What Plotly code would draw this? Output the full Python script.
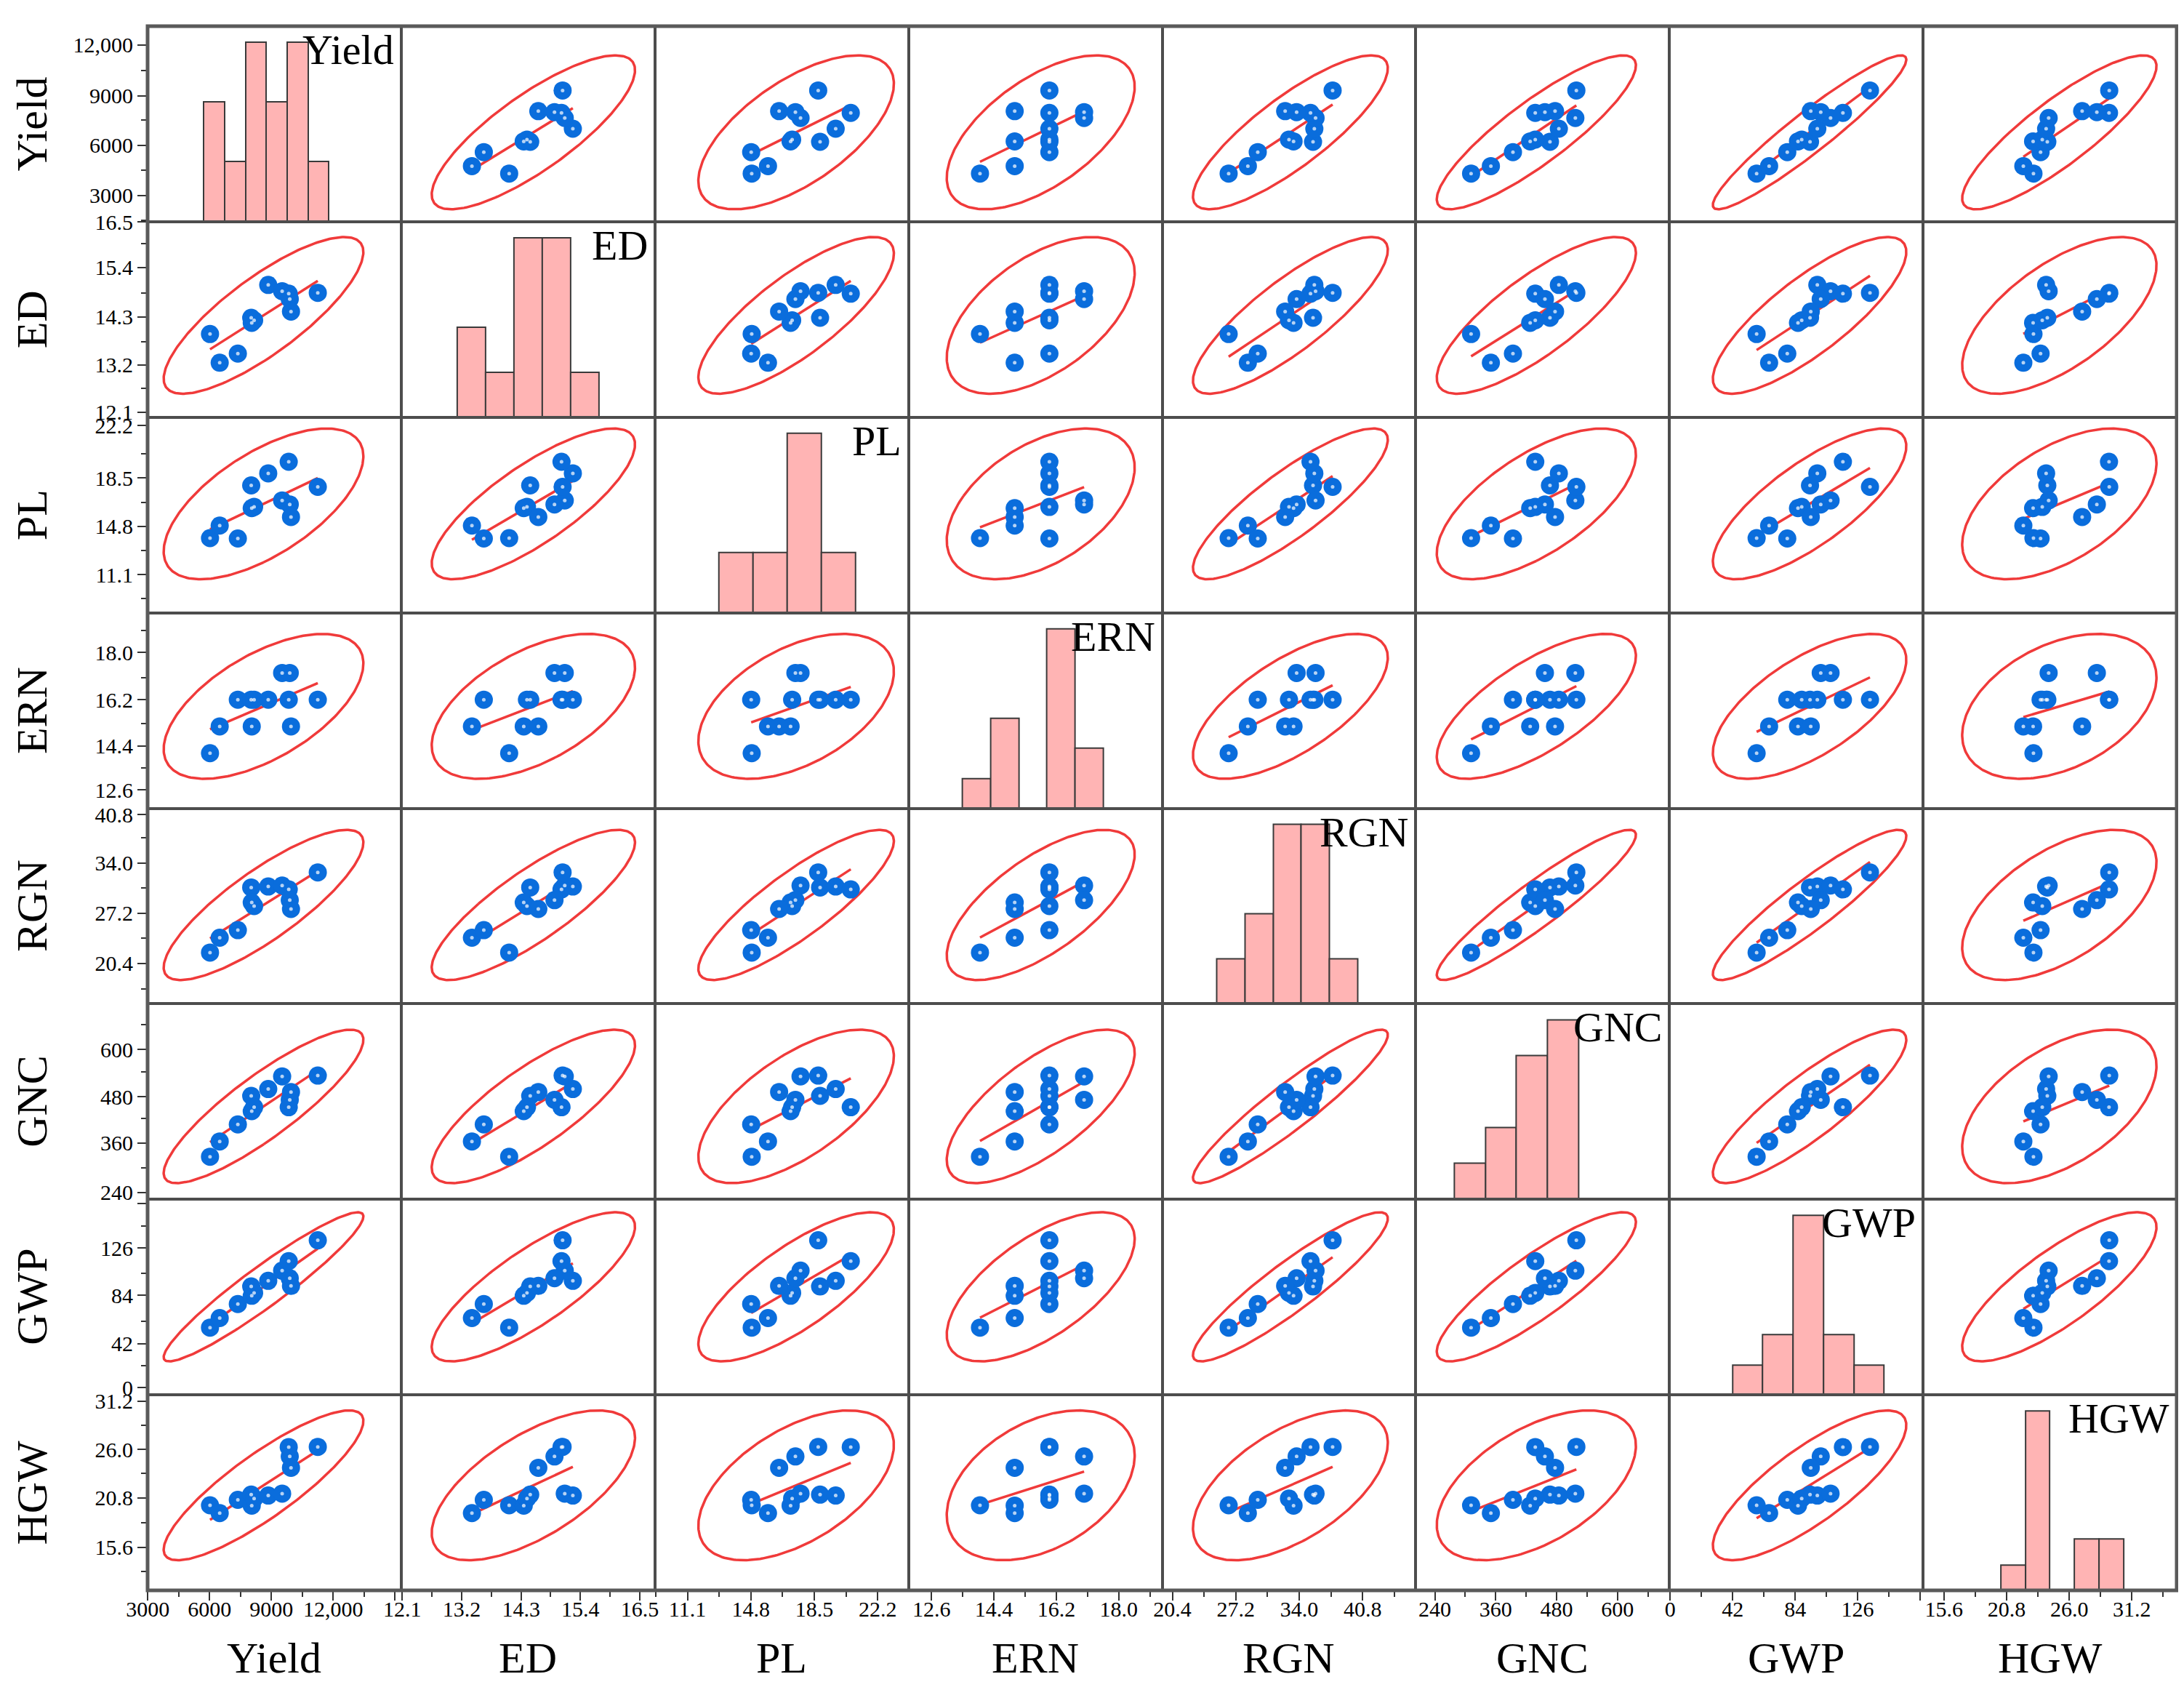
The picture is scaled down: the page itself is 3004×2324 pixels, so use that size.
import numpy as np
import plotly.graph_objects as go

VARIABLES = ["Yield", "ED", "PL", "ERN", "RGN", "GNC", "GWP", "HGW"]

YIELD = [6020, 6490, 7370, 8020, 8045, 8160, 8845, 9520, 9840, 9890, 9950, 11250]
ED = [14.08, 13.39, 13.61, 14.47, 14.35, 14.41, 15.26, 15.11, 15.05, 14.92, 14.62, 15.07]
PL = [14.85, 15.80, 14.82, 18.84, 17.12, 17.21, 19.75, 17.70, 20.63, 17.40, 16.45, 18.73]
ERN = [14, 15, 16, 16, 15, 16, 16, 17, 16, 17, 15, 16]
RGN = [26.43, 28.49, 29.55, 35.48, 33.39, 32.90, 35.62, 35.75, 35.21, 33.72, 32.49, 37.58]
GNC = [311.5, 350.5, 394, 467, 428, 438, 484.5, 517, 438, 457, 477, 519]
GWP = [58.1, 66.5, 78.7, 94.0, 85.9, 88.4, 98.9, 107.8, 116.1, 101.2, 94.5, 134.3]
HGW = [23.03, 22.19, 23.62, 24.18, 23.00, 23.76, 24.08, 24.29, 29.30, 28.29, 27.07, 29.32]

DATA = [YIELD, ED, PL, ERN, RGN, GNC, GWP, HGW]

# tick labels (same text on the bottom and left axes)
TICK_TEXT = {
    "Yield": ["3000", "6000", "9000", "12,000"],
    "ED": ["12.1", "13.2", "14.3", "15.4", "16.5"],
    "PL": ["11.1", "14.8", "18.5", "22.2"],
    "ERN": ["12.6", "14.4", "16.2", "18.0"],
    "RGN": ["20.4", "27.2", "34.0", "40.8"],
    "GNC": ["240", "360", "480", "600"],
    "GWP": ["0", "42", "84", "126"],
    "HGW": ["15.6", "20.8", "26.0", "31.2"],
}
TICK_VALUE = {
    "Yield": [3000, 6000, 9000, 12000],
    "ED": [12.1, 13.2, 14.3, 15.4, 16.5],
    "PL": [11.1, 14.8, 18.5, 22.2],
    "ERN": [12.6, 14.4, 16.2, 18.0],
    "RGN": [20.4, 27.2, 34.0, 40.8],
    "GNC": [240, 360, 480, 600],
    "GWP": [0, 42, 84, 126],
    "HGW": [15.6, 20.8, 26.0, 31.2],
}

# histogram bins (start, width)
HIST_BINS = {
    "Yield": (5718, 1011), "ED": (13.119, 0.524), "PL": (12.93, 1.992),
    "ERN": (13.5, 0.81), "RGN": (25.18, 3.014), "GNC": (278, 61.4),
    "GWP": (41.8, 20.4), "HGW": (20.31, 2.042),
}

# ---------------- layout settings ----------------
AXIS_RANGE = {
    "Yield": [2990, 15300], "ED": [12.08, 16.78], "PL": [9.2, 24.0],
    "ERN": [11.94, 19.25], "RGN": [19.3, 46.5], "GNC": [202.5, 702.5],
    "GWP": [-0.5, 170.0], "HGW": [13.87, 34.92],
}
# where the left-axis labels sit, as a fraction of each row's height
Y_LABEL_FRAC = {
    "Yield": [0.134, 0.391, 0.643, 0.905],
    "ED": [0.026, 0.267, 0.514, 0.766, 0.998],
    "PL": [0.195, 0.442, 0.689, 0.957],
    "ERN": [0.093, 0.319, 0.556, 0.797],
    "RGN": [0.206, 0.463, 0.720, 0.967],
    "GNC": [0.036, 0.288, 0.525, 0.766],
    "GWP": [0.036, 0.262, 0.509, 0.751],
    "HGW": [0.221, 0.473, 0.720, 0.967],
}
HIST_TOP = 0.92   # tallest bar reaches this share of the panel height

W, H = 3004, 2324
ML, MR, MT, MB = 195, 18, 25, 145
PW, PH = W - ML - MR, H - MT - MB
N = len(VARIABLES)
FONT = "Liberation Serif"
BLUE = "#0a6ddc"
RED = "#f03a3a"
BORDER = "#4d4d4d"


def nm(k):
    return "" if k == 1 else str(k)


def ellipse(x, y, npts=240):
    x = np.asarray(x, float)
    y = np.asarray(y, float)
    n = len(x)
    cov = np.cov(x, y)
    fq = (n - 2) / 2.0 * (0.05 ** (-2.0 / (n - 2)) - 1.0)
    c2 = 2.0 * (n - 1) * (n + 1) / (n * (n - 2)) * fq
    vals, vecs = np.linalg.eigh(cov)
    vals = np.clip(vals, 0, None)
    t = np.linspace(0, 2 * np.pi, npts)
    circ = np.vstack([np.cos(t), np.sin(t)])
    pts = vecs @ (np.sqrt(vals * c2)[:, None] * circ)
    return x.mean() + pts[0], y.mean() + pts[1]


def tick_sets(major, lo, hi, text):
    step = major[1] - major[0]
    vals = list(major)
    txt = list(text)
    extra = major[-1] + step
    if lo <= extra <= hi:
        vals.append(extra)
        txt.append("")
    minor = [v + step / 2 for v in [major[0] - step] + vals]
    minor = [m for m in minor if lo <= m <= hi]
    return vals, txt, minor


fig = go.Figure()
layout = {}
tickfont = dict(family=FONT, size=30, color="black")

for i in range(N):
    vy = VARIABLES[i]
    ydom = [1 - (i + 1) / N, 1 - i / N]
    for j in range(N):
        vx = VARIABLES[j]
        k = i * N + j + 1
        xr = AXIS_RANGE[vx]
        yr = AXIS_RANGE[vy]
        xa = dict(domain=[j / N, (j + 1) / N], anchor="y" + nm(k), range=xr,
                  showgrid=False, zeroline=False, showline=True, mirror=True,
                  linecolor=BORDER, linewidth=2, ticks="", showticklabels=False)
        ya = dict(domain=ydom, anchor="x" + nm(k), range=yr,
                  showgrid=False, zeroline=False, showline=True, mirror=True,
                  linecolor=BORDER, linewidth=2, ticks="", showticklabels=False)
        if i == N - 1:
            tv, tt, mv = tick_sets(TICK_VALUE[vx], xr[0], xr[1], TICK_TEXT[vx])
            xa.update(tickmode="array", tickvals=tv, ticktext=tt, ticks="outside",
                      ticklen=12, tickwidth=2, tickcolor="#333", showticklabels=True,
                      tickfont=tickfont, ticklabelstandoff=-14,
                      minor=dict(tickmode="array", tickvals=mv, ticks="outside",
                                 ticklen=7, tickwidth=2, tickcolor="#333"))
        if j == 0:
            span = yr[1] - yr[0]
            pos = [yr[0] + f * span for f in Y_LABEL_FRAC[vy]]
            tv, tt, mv = tick_sets(pos, yr[0], yr[1], TICK_TEXT[vy])
            ya.update(tickmode="array", tickvals=tv, ticktext=tt, ticks="outside",
                      ticklen=12, tickwidth=2, tickcolor="#333", showticklabels=True,
                      tickfont=tickfont,
                      minor=dict(tickmode="array", tickvals=mv, ticks="outside",
                                 ticklen=7, tickwidth=2, tickcolor="#333"))
        layout["xaxis" + nm(k)] = xa
        layout["yaxis" + nm(k)] = ya

        if i == j:
            # histogram: counts per bin, tallest bar scaled to HIST_TOP of the panel
            start, size = HIST_BINS[vx]
            edges = start + size * np.arange(0, 30)
            counts, _ = np.histogram(DATA[j], bins=edges)
            keep = counts > 0
            centers = (edges[:-1] + edges[1:]) / 2
            unit = (yr[1] - yr[0]) * HIST_TOP / counts.max()
            fig.add_trace(go.Bar(
                x=centers[keep], y=counts[keep] * unit, base=yr[0], width=size,
                marker=dict(color="#ffb4b4", line=dict(color="#3a3a3a", width=2)),
                customdata=counts[keep], hovertemplate="count %{customdata}<extra></extra>",
                xaxis="x" + nm(k), yaxis="y" + nm(k), showlegend=False))
        else:
            x = np.asarray(DATA[j], float)
            y = np.asarray(DATA[i], float)
            ex, ey = ellipse(x, y)
            fig.add_trace(go.Scatter(x=ex, y=ey, mode="lines",
                                     line=dict(color=RED, width=3.5),
                                     xaxis="x" + nm(k), yaxis="y" + nm(k),
                                     showlegend=False, hoverinfo="skip"))
            b, a = np.polyfit(x, y, 1)
            xs = np.array([x.min(), x.max()])
            fig.add_trace(go.Scatter(x=xs, y=a + b * xs, mode="lines",
                                     line=dict(color=RED, width=3.5),
                                     xaxis="x" + nm(k), yaxis="y" + nm(k),
                                     showlegend=False, hoverinfo="skip"))
            fig.add_trace(go.Scatter(x=x, y=y, mode="markers",
                                     marker=dict(size=25, color=BLUE, line=dict(width=0)),
                                     xaxis="x" + nm(k), yaxis="y" + nm(k),
                                     showlegend=False))
            fig.add_trace(go.Scatter(x=x, y=y, mode="markers",
                                     marker=dict(size=5, color="rgba(255,255,255,0.7)",
                                                 line=dict(width=0)),
                                     xaxis="x" + nm(k), yaxis="y" + nm(k),
                                     showlegend=False, hoverinfo="skip"))

annotations = []
for i, v in enumerate(VARIABLES):
    # row titles (left)
    annotations.append(dict(text=v, xref="paper", yref="paper",
                            x=(36 - ML) / PW, y=1 - (i + 0.5) / N, textangle=-90,
                            xanchor="center", yanchor="middle", showarrow=False,
                            font=dict(family=FONT, size=60, color="black")))
    # column titles (bottom)
    annotations.append(dict(text=v, xref="paper", yref="paper",
                            x=(i + 0.5) / N, y=-(2272 - (H - MB)) / PH,
                            xanchor="center", yanchor="middle", showarrow=False,
                            font=dict(family=FONT, size=60, color="black")))
    # diagonal labels
    annotations.append(dict(text=v, xref="paper", yref="paper",
                            x=(i + 1) / N - 8 / PW, y=1 - i / N + 2 / PH,
                            xanchor="right", yanchor="top", showarrow=False,
                            font=dict(family=FONT, size=58, color="black")))

layout.update(
    width=W, height=H, autosize=False,
    margin=dict(l=ML, r=MR, t=MT, b=MB, pad=0),
    paper_bgcolor="white", plot_bgcolor="white",
    font=dict(family=FONT, color="black"),
    annotations=annotations,
    shapes=[dict(type="rect", xref="paper", yref="paper", x0=0, x1=1, y0=0, y1=1,
                 line=dict(color="#5a5a5a", width=5))],
    bargap=0,
)
fig.update_layout(**layout)
fig.write_html("out.html")
